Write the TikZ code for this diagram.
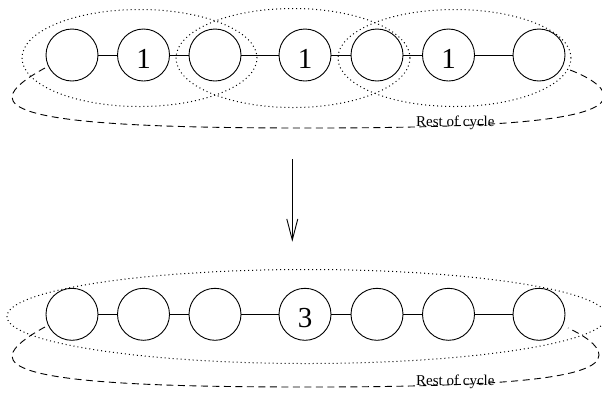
\documentclass[tikz,border=0pt]{standalone}
\usepackage{fontspec}
\setmainfont{Liberation Serif}
\usetikzlibrary{arrows.meta}

\tikzset{
  vtx/.style={circle, draw, line width=0.9pt, fill=white, minimum size=52pt,
              inner sep=0pt, font=\fontsize{29}{29}\selectfont,
              text height=26pt, text depth=0pt},
  edge/.style={line width=0.9pt},
  group/.style={line width=1pt, dash pattern=on 1pt off 3pt},
  restdash/.style={line width=0.9pt, dash pattern=on 7pt off 4.5pt},
  restlabel/.style={font=\fontsize{15}{15}\selectfont, inner sep=0pt, anchor=base west},
  step arrow/.style={line width=0.9pt, -{Straight Barb[length=21pt,width=11pt,line width=0.9pt]}}
}

\begin{document}
\begin{tikzpicture}[x=1pt,y=1pt]
\useasboundingbox (0,0) rectangle (602,-392);

% ---------- upper chain: three overlapping groups ----------
\draw[group] (139.5,-58) ellipse [x radius=117.5, y radius=48.5];
\draw[group] (293,-58) ellipse [x radius=117, y radius=49.5];
\draw[group] (454.5,-58) ellipse [x radius=116.5, y radius=48.5];

% rest of the cycle (upper)
\draw[restdash] (45,-68) .. controls (30,-76) and (12,-88) .. (12,-97)
  .. controls (12,-120) and (110,-128) .. (307,-128)
  .. controls (504,-128) and (604,-120) .. (604,-96)
  .. controls (604,-86) and (586,-76) .. (570,-70);
\node[restlabel] (restA) at (416,-126.7) {Rest of cycle};

\node[vtx] (a1) at (72,-55) {};
\node[vtx] (a2) at (143.5,-55) {1};
\node[vtx] (a3) at (215,-55) {};
\node[vtx] (a4) at (305,-55) {1};
\node[vtx] (a5) at (377,-55) {};
\node[vtx] (a6) at (448.5,-55) {1};
\node[vtx] (a7) at (539,-55) {};
\foreach \i/\j in {a1/a2,a2/a3,a3/a4,a4/a5,a5/a6,a6/a7}
  \draw[edge] (\i) -- (\j);

% ---------- transformation arrow ----------
\coordinate (arrtop) at (292.3,-159.3);
\coordinate (arrtip) at (292.3,-241.7);
\draw[step arrow] (arrtop) -- (arrtip);

% ---------- lower chain: one merged group ----------
\draw[group] (307,-316.5) ellipse [x radius=300, y radius=47];

% rest of the cycle (lower)
\draw[restdash] (45,-327) .. controls (30,-335) and (12,-347) .. (12,-356)
  .. controls (12,-379) and (110,-387) .. (307,-387)
  .. controls (500,-387) and (599,-379) .. (599,-355)
  .. controls (599,-345) and (583,-335) .. (568,-328);
\node[restlabel] (restB) at (416,-385.7) {Rest of cycle};

\node[vtx] (b1) at (72,-314.3) {};
\node[vtx] (b2) at (143.5,-314.3) {};
\node[vtx] (b3) at (215,-314.3) {};
\node[vtx] (b4) at (305,-314.3) {3};
\node[vtx] (b5) at (377,-314.3) {};
\node[vtx] (b6) at (448.5,-314.3) {};
\node[vtx] (b7) at (539,-314.3) {};
\foreach \i/\j in {b1/b2,b2/b3,b3/b4,b4/b5,b5/b6,b6/b7}
  \draw[edge] (\i) -- (\j);
\end{tikzpicture}
\end{document}
